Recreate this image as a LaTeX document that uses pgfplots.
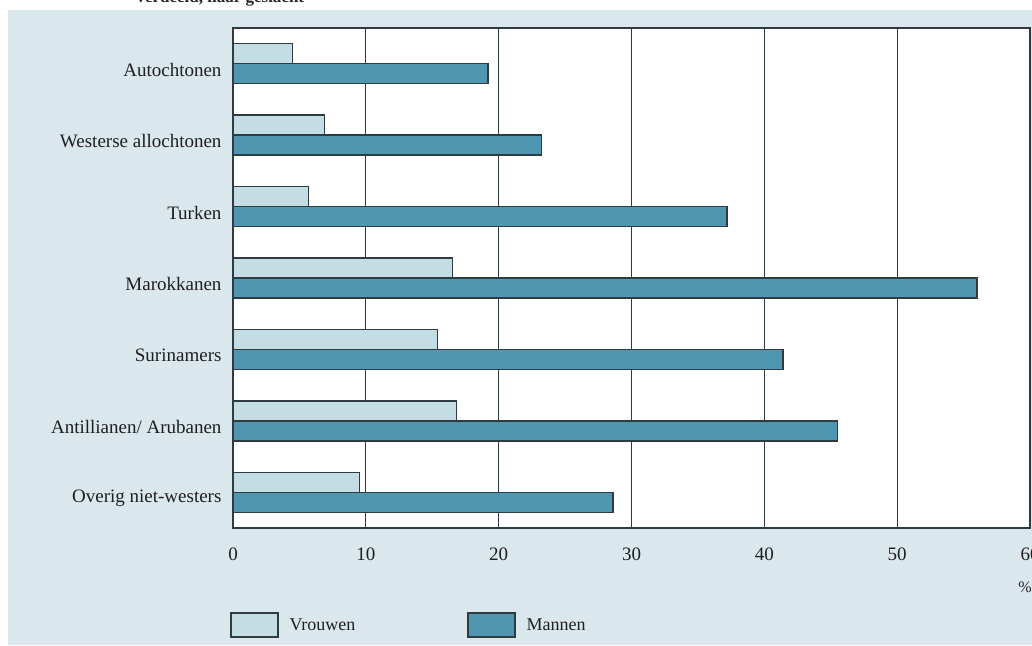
\documentclass[border=0pt]{standalone}
\usepackage{pgfplots}
\pgfplotsset{compat=1.18}
\usepackage{fontspec}
\setmainfont{Liberation Serif}

\definecolor{bgblue}{HTML}{DAE7EC}
\definecolor{vrouwfill}{HTML}{C4DCE3}
\definecolor{manfill}{HTML}{4F97B0}
\definecolor{edge}{HTML}{2E3C42}

% positions 7 (top) .. 1 (bottom)
\pgfplotstableread{
y vrouwen mannen
7 4.5 19.2
6 6.9 23.2
5 5.7 37.2
4 16.5 56.0
3 15.4 41.4
2 16.8 45.5
1 9.5 28.6
}\datatable

\begin{document}
\begin{tikzpicture}
\path[use as bounding box] (0,0) rectangle (1032pt,645pt);
\fill[bgblue] (8pt,0) rectangle (1032pt,635pt);
\node[anchor=base west,font=\bfseries\fontsize{17}{19}\selectfont,text=black!85] at (133pt,642pt) {verdeeld, naar geslacht};
\begin{axis}[
    at={(233pt,117pt)}, anchor=south west,
    scale only axis,
    width=797pt, height=500pt,
    xbar, bar width=20pt,
    xmin=0, xmax=60,
    ymin=0.5, ymax=7.5,
    xtick={0,10,...,60},
    ytick={1,...,7},
    yticklabels={Overig niet-westers,Antillianen/ Arubanen,Surinamers,Marokkanen,Turken,Westerse allochtonen,Autochtonen},
    major tick length=0pt,
    xmajorgrids,
    grid style={edge, line width=1.1pt},
    axis line style={edge, line width=1.3pt},
    axis background/.style={fill=white},
    tick label style={font=\fontsize{19}{21}\selectfont, text=black!88},
    /pgf/number format/assume math mode=true,
    xticklabel style={yshift=-16pt},
    yticklabel style={xshift=-8pt, yshift=-6pt},
    legend columns=2,
    legend style={at={(rel axis cs:-0.0075,-0.194)}, anchor=west, draw=none, fill=none,
        font=\fontsize{18}{20}\selectfont, text=black!88,
        /tikz/every even column/.append style={column sep=110pt}},
    legend image code/.code={\draw[#1, line width=1.3pt] (0pt,-12pt) rectangle (47pt,12pt);
        \path (56pt,0pt);},
    legend cell align=left,
]
\addplot[fill=vrouwfill, draw=edge, line width=1.3pt, bar shift=10pt] table[x=vrouwen, y=y] {\datatable};
\addplot[fill=manfill, draw=edge, line width=1.3pt, bar shift=-10pt] table[x=mannen, y=y] {\datatable};
\legend{Vrouwen, Mannen}
\end{axis}
\node[font=\fontsize{16}{18}\selectfont, text=black!85] at (1025pt,58pt) {\%};
\end{tikzpicture}
\end{document}
